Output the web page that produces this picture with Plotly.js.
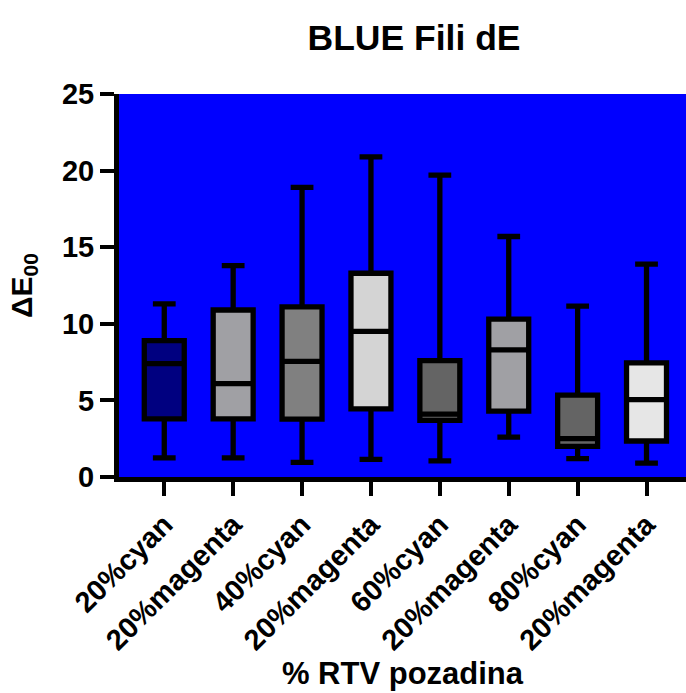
<!DOCTYPE html>
<html>
<head>
<meta charset="utf-8">
<script src="https://cdn.plot.ly/plotly-3.0.1.min.js"></script>
<style>html,body{margin:0;padding:0;background:#fff;}#chart{width:686px;height:693px;}</style>
</head>
<body>
<div id="chart"></div>
<script>
// Data
const categories = ['20%cyan', '20%magenta', '40%cyan', '20%magenta', '60%cyan', '20%magenta', '80%cyan', '20%magenta'];
const upperWhisker = [11.3, 13.8, 18.9, 20.9, 19.7, 15.7, 11.15, 13.9];
const q3Values = [8.9, 10.9, 11.1, 13.3, 7.6, 10.3, 5.35, 7.45];
const medianValues = [7.4, 6.1, 7.55, 9.5, 4.1, 8.3, 2.5, 5.05];
const q1Values = [3.8, 3.8, 3.78, 4.45, 3.7, 4.3, 2.0, 2.35];
const lowerWhisker = [1.25, 1.25, 0.95, 1.15, 1.05, 2.6, 1.2, 0.9];
const boxColors = ['#000080', '#A0A0A4', '#808080', '#D4D4D4', '#646464', '#A0A0A4', '#646464', '#E6E6E6'];

const positions = categories.map((c, i) => i);

const traces = categories.map((c, i) => ({
  type: 'box',
  name: c,
  x: [positions[i]],
  q1: [q1Values[i]],
  median: [medianValues[i]],
  q3: [q3Values[i]],
  lowerfence: [lowerWhisker[i]],
  upperfence: [upperWhisker[i]],
  fillcolor: boxColors[i],
  line: {color: '#000000', width: 5.3},
  width: 0.58,
  whiskerwidth: 0.57,
  boxpoints: false,
  hoverinfo: 'none',
  showlegend: false
}));

const fontFamily = '"Liberation Sans", Arial, Helvetica, sans-serif';

const layout = {
  width: 686,
  height: 693,
  margin: {l: 119, r: 0, t: 94, b: 216, pad: 0},
  paper_bgcolor: '#FFFFFF',
  plot_bgcolor: '#0000FF',
  boxmode: 'overlay',
  font: {family: fontFamily, color: '#000000', weight: 'bold'},
  title: {
    text: 'BLUE Fili dE',
    font: {family: fontFamily, size: 35.5, color: '#000000', weight: 'bold'},
    x: 414 / 686, xref: 'container', xanchor: 'center',
    y: 1 - 38 / 693, yref: 'container', yanchor: 'middle'
  },
  xaxis: {
    range: [-0.657, 7.573],
    tickmode: 'array',
    tickvals: positions,
    ticktext: categories,
    tickangle: -45,
    tickfont: {family: fontFamily, size: 29, color: '#000000', weight: 'bold'},
    ticks: 'outside',
    ticklen: 14,
    tickwidth: 4,
    tickcolor: '#000000',
    showline: true,
    linecolor: '#000000',
    linewidth: 5,
    showgrid: false,
    zeroline: false,
    automargin: false,
    title: {
      text: '% RTV pozadina',
      font: {family: fontFamily, size: 31, color: '#000000', weight: 'bold'},
      standoff: 3
    }
  },
  yaxis: {
    range: [0, 25],
    tickmode: 'linear',
    tick0: 0,
    dtick: 5,
    tickfont: {family: fontFamily, size: 29, color: '#000000', weight: 'bold'},
    ticks: 'outside',
    ticklen: 14,
    tickwidth: 4,
    tickcolor: '#000000',
    showline: true,
    linecolor: '#000000',
    linewidth: 5,
    showgrid: false,
    zeroline: false,
    automargin: false,
    title: {
      text: 'ΔE<sub>00</sub>',
      font: {family: fontFamily, size: 30, color: '#000000', weight: 'bold'},
      standoff: 22
    }
  }
};

Plotly.newPlot('chart', traces, layout, {displayModeBar: false, staticPlot: true});
</script>
</body>
</html>
